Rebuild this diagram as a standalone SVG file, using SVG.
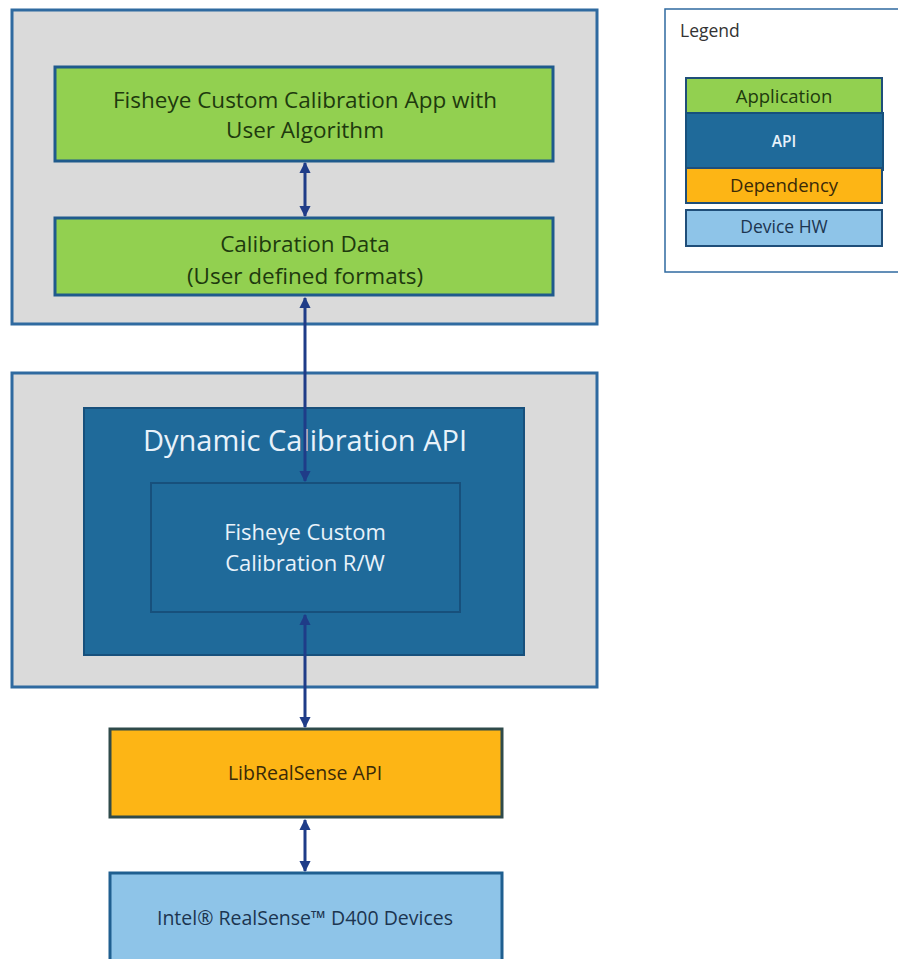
<svg xmlns="http://www.w3.org/2000/svg" width="898" height="959" viewBox="0 0 898 959">
<style>
text{font-family:"Open Sans","Noto Sans","Liberation Sans",sans-serif;text-anchor:middle}
.cont{fill:#DADADA;stroke:#2F6AA0;stroke-width:3}
.app{fill:#92D050;stroke:#1F5A8C;stroke-width:3}
.apptxt{fill:#1E3A0E;font-size:22.5px}
.api{fill:#1F6A9A;stroke:#17507C;stroke-width:2}
.apitxt{fill:#E8F2FA}
.dep{fill:#FDB515;stroke:#2F4A4A;stroke-width:3}
.hw{fill:#8EC4E8;stroke:#1F5F90;stroke-width:3}
.conn{stroke:#1F3C88;stroke-width:3;fill:none}
</style>
<defs>
<marker id="ah" viewBox="0 0 10 10" refX="9" refY="5" markerWidth="3.8" markerHeight="3.8" orient="auto-start-reverse">
<path d="M0,0 L10,5 L0,10 z" fill="#1F3C88"/>
</marker>
</defs>
<rect width="898" height="959" fill="#FFFFFF"/>

<g id="app-container">
<rect class="cont" x="12" y="10" width="585" height="314"/>
</g>
<g id="fisheye-app">
<rect class="app" x="55" y="67" width="498" height="94"/>
<text class="apptxt" x="305" y="108">Fisheye Custom Calibration App with</text>
<text class="apptxt" x="305" y="138">User Algorithm</text>
</g>
<g id="calibration-data">
<rect class="app" x="55" y="218" width="498" height="77"/>
<text class="apptxt" x="305" y="252">Calibration Data</text>
<text class="apptxt" x="305" y="284">(User defined formats)</text>
</g>

<g id="api-container">
<rect class="cont" x="12" y="373" width="585" height="314"/>
</g>
<g id="dynamic-calibration-api">
<rect class="api" x="84" y="408" width="440" height="247"/>
<text class="apitxt" x="305" y="451" font-size="29">Dynamic Calibration API</text>
</g>
<g id="fisheye-rw">
<rect class="api" x="151" y="483" width="309" height="129"/>
<text class="apitxt" x="305" y="539.5" font-size="22">Fisheye Custom</text>
<text class="apitxt" x="305" y="570.5" font-size="22">Calibration R/W</text>
</g>

<g id="librealsense">
<rect class="dep" x="110" y="729" width="392" height="88"/>
<text x="305" y="780" font-size="19.5" fill="#3A2A08">LibRealSense API</text>
</g>
<g id="d400">
<rect class="hw" x="110" y="873" width="392" height="92"/>
<text x="305" y="925" font-size="19.5" fill="#1C3550">Intel® RealSense™ D400 Devices</text>
</g>

<g id="connectors">
<line class="conn" x1="305" y1="163" x2="305" y2="216" marker-start="url(#ah)" marker-end="url(#ah)"/>
<line class="conn" x1="305" y1="298" x2="305" y2="481" marker-start="url(#ah)" marker-end="url(#ah)"/>
<line class="conn" x1="305" y1="615" x2="305" y2="727" marker-start="url(#ah)" marker-end="url(#ah)"/>
<line class="conn" x1="305" y1="820" x2="305" y2="871" marker-start="url(#ah)" marker-end="url(#ah)"/>
</g>

<g id="legend">
<rect x="665" y="9" width="240" height="263" fill="#FFFFFF" stroke="#2F6AA0" stroke-width="1.5"/>
<text x="680" y="37" font-size="17.5" fill="#333333" style="text-anchor:start">Legend</text>
<rect x="686" y="78" width="196" height="35" fill="#92D050" stroke="#1F4E79" stroke-width="2"/>
<text x="784" y="102.5" font-size="18.5" fill="#1E3A0E">Application</text>
<rect x="686" y="113" width="197" height="57" fill="#1F6A9A" stroke="#17507C" stroke-width="2"/>
<text x="784" y="147" font-size="15.5" font-weight="600" fill="#E8F2FA">API</text>
<rect x="686" y="168" width="196" height="35" fill="#FDB515" stroke="#1F4E79" stroke-width="2"/>
<text x="784" y="191.5" font-size="18.5" fill="#3A2A08">Dependency</text>
<rect x="686" y="210" width="196" height="36" fill="#8EC4E8" stroke="#1F4E79" stroke-width="2"/>
<text x="784" y="233" font-size="17.5" fill="#1C3550">Device HW</text>
</g>
</svg>
